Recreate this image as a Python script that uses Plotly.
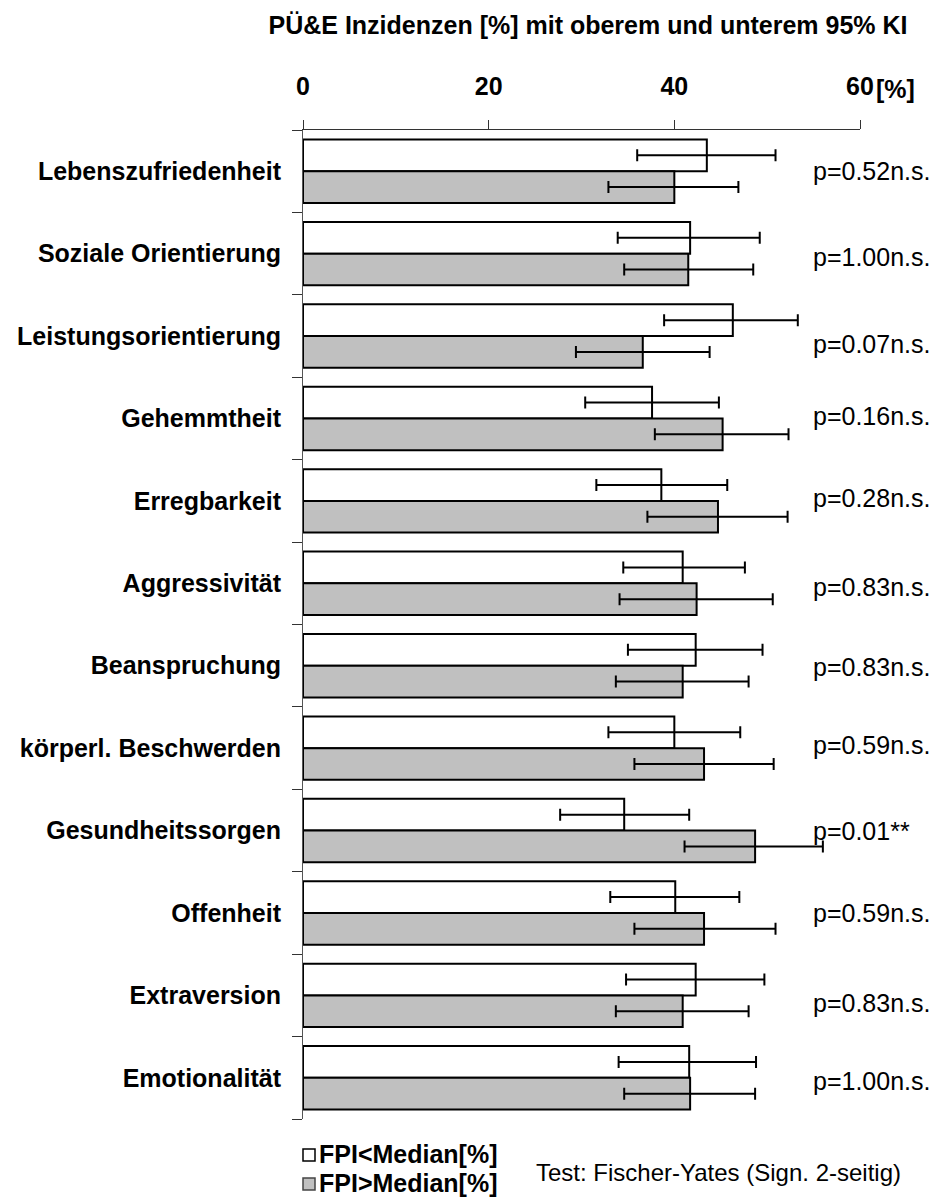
import plotly.graph_objects as go

# FPI scales
categories = [
    "Lebenszufriedenheit", "Soziale Orientierung", "Leistungsorientierung",
    "Gehemmtheit", "Erregbarkeit", "Aggressivität", "Beanspruchung",
    "körperl. Beschwerden", "Gesundheitssorgen", "Offenheit",
    "Extraversion", "Emotionalität",
]

# incidence [%] for FPI < median, with lower / upper 95% CI
below = [43.5, 41.7, 46.3, 37.6, 38.6, 40.9, 42.3, 40.0, 34.6, 40.1, 42.3, 41.6]
below_lo = [36.0, 33.9, 38.9, 30.4, 31.6, 34.5, 35.0, 32.9, 27.7, 33.1, 34.8, 34.0]
below_hi = [50.9, 49.2, 53.3, 44.8, 45.7, 47.6, 49.5, 47.1, 41.6, 47.0, 49.7, 48.8]

# incidence [%] for FPI > median, with lower / upper 95% CI
above = [40.0, 41.5, 36.6, 45.2, 44.7, 42.4, 40.9, 43.2, 48.7, 43.2, 40.9, 41.7]
above_lo = [32.9, 34.6, 29.4, 37.9, 37.1, 34.1, 33.7, 35.7, 41.1, 35.7, 33.7, 34.6]
above_hi = [46.9, 48.5, 43.8, 52.3, 52.2, 50.6, 48.0, 50.7, 56.0, 50.9, 48.0, 48.7]

p_labels = [
    "p=0.52n.s.", "p=1.00n.s.", "p=0.07n.s.", "p=0.16n.s.", "p=0.28n.s.",
    "p=0.83n.s.", "p=0.83n.s.", "p=0.59n.s.", "p=0.01**", "p=0.59n.s.",
    "p=0.83n.s.", "p=1.00n.s.",
]
p_yshift = [0, -3, -8, 2, 3, -4, -1, 3, 0, 0, -8, -3]

x_ticks = [0, 20, 40, 60]
series_names = ["FPI<Median[%]", "FPI>Median[%]"]

FONT = "Liberation Sans, Arial, sans-serif"
W, H = 935, 1200
M_L, M_R, M_T, M_B = 303, 75, 130, 81
PW = W - M_L - M_R
PH = H - M_T - M_B


def xp(px):
    return (px - M_L) / PW


def yp(py):
    return (H - M_B - py) / PH


def err(vals, lo, hi):
    return dict(
        type="data", symmetric=False,
        array=[h - v for v, h in zip(vals, hi)],
        arrayminus=[v - l for v, l in zip(vals, lo)],
        color="black", thickness=2, width=6,
    )


fig = go.Figure()
fig.add_trace(go.Bar(
    y=categories, x=below, orientation="h", name=series_names[0],
    marker=dict(color="white", line=dict(color="black", width=2)),
    error_x=err(below, below_lo, below_hi),
))
fig.add_trace(go.Bar(
    y=categories, x=above, orientation="h", name=series_names[1],
    marker=dict(color="#c0c0c0", line=dict(color="black", width=2)),
    error_x=err(above, above_lo, above_hi),
))

annotations = []
for cat, lab, dy in zip(categories, p_labels, p_yshift):
    annotations.append(dict(
        x=xp(811), xref="paper", y=cat, yref="y", text=lab,
        showarrow=False, xanchor="left", yanchor="middle", yshift=dy,
        font=dict(family=FONT, size=25, color="black"),
    ))

# unit label next to the last tick
annotations.append(dict(
    x=xp(874), xref="paper", y=yp(89), yref="paper", text="<b>[%]</b>",
    showarrow=False, xanchor="left", yanchor="middle",
    font=dict(family=FONT, size=25, color="black"),
))

# key below the plot
shapes = []
key_rows = [(1155, "white", "black"), (1184, "#c0c0c0", "#444")]
for (cy, fill, edge), name in zip(key_rows, series_names):
    shapes.append(dict(
        type="rect", xref="paper", yref="paper",
        x0=xp(303), x1=xp(315), y0=yp(cy + 6), y1=yp(cy - 6),
        fillcolor=fill, line=dict(color=edge, width=1.5),
    ))
    annotations.append(dict(
        x=xp(317), xref="paper", y=yp(cy - 1), yref="paper",
        text=f"<b>{name}</b>", showarrow=False,
        xanchor="left", yanchor="middle",
        font=dict(family=FONT, size=25, color="black"),
    ))

annotations.append(dict(
    x=xp(534), xref="paper", y=yp(1172), yref="paper",
    text="Test: Fischer-Yates (Sign. 2-seitig)", showarrow=False,
    xanchor="left", yanchor="middle",
    font=dict(family=FONT, size=24, color="black"),
))

fig.update_layout(
    width=W, height=H,
    margin=dict(l=M_L, r=M_R, t=M_T, b=M_B),
    paper_bgcolor="white", plot_bgcolor="white",
    barmode="group", bargap=0.23, bargroupgap=0,
    showlegend=False,
    title=dict(
        text="<b>PÜ&E Inzidenzen [%] mit oberem und unterem 95% KI</b>",
        x=588 / W, xanchor="center", xref="container",
        y=1 - 25 / H, yanchor="middle", yref="container",
        font=dict(family=FONT, size=25, color="black"),
    ),
    font=dict(family=FONT, color="black"),
    annotations=annotations,
    shapes=shapes,
)

fig.update_xaxes(
    side="top", range=[0, 60], tickvals=x_ticks,
    ticktext=[f"<b>{t}</b>" for t in x_ticks],
    showline=True, linecolor="#333", linewidth=1,
    ticks="outside", ticklen=9, tickcolor="#333", tickwidth=1,
    ticklabelstandoff=15,
    showgrid=False, zeroline=False,
    tickfont=dict(family=FONT, size=25, color="black"),
)
fig.update_yaxes(
    type="category", autorange="reversed",
    tickvals=categories, ticktext=[f"<b>{c}</b>" for c in categories],
    tickson="boundaries",
    showline=True, linecolor="#555", linewidth=1,
    ticks="outside", ticklen=10, tickcolor="#333", tickwidth=1,
    ticklabelstandoff=16,
    showgrid=False, zeroline=False,
    tickfont=dict(family=FONT, size=25, color="black"),
)

fig.write_html("out.html")
